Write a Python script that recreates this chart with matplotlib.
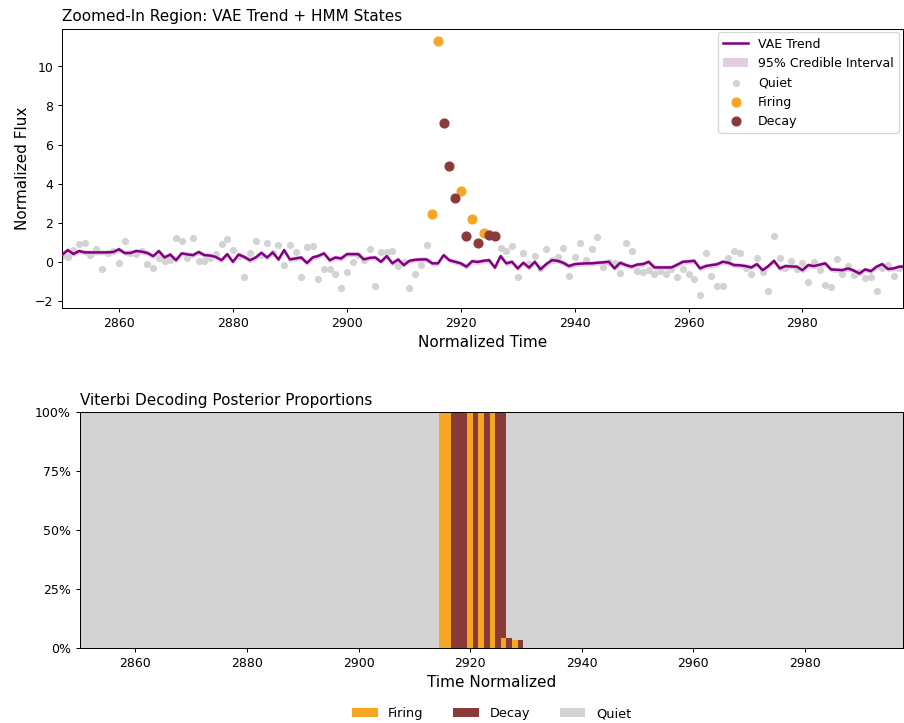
import numpy as np
import matplotlib
matplotlib.use("Agg")
import matplotlib.pyplot as plt
from matplotlib.ticker import PercentFormatter

# time axis of the zoomed window
t = np.arange(2850, 2999)

# VAE trend (posterior mean)
trend = [0.35, 0.60, 0.40, 0.55, 0.48, 0.48, 0.48, 0.48, 0.48, 0.50,
         0.64, 0.45, 0.45, 0.55, 0.52, 0.45, 0.29, 0.55, 0.22, 0.37,
         0.08, 0.43, 0.38, 0.34, 0.50, 0.34, 0.32, 0.25, 0.08, 0.39,
         0.00, 0.37, 0.25, 0.08, 0.22, 0.46, 0.22, 0.48, 0.12, 0.60,
         0.12, 0.17, 0.22, -0.06, 0.22, 0.30, 0.43, 0.08, 0.22, 0.17,
         0.39, 0.39, 0.39, 0.12, 0.20, 0.22, 0.00, 0.29, -0.08, 0.12,
         -0.17, 0.05, 0.10, 0.12, 0.12, -0.08, -0.08, 0.34, 0.08, 0.00,
         -0.08, -0.25, 0.03, -0.01, 0.05, 0.08, -0.30, 0.29, -0.08, 0.00,
         -0.34, -0.05, -0.30, 0.00, -0.39, -0.12, 0.08, 0.05, -0.05, -0.22,
         -0.12, -0.10, -0.08, -0.08, -0.05, -0.03, 0.00, -0.34, -0.05, -0.17,
         -0.25, -0.14, -0.12, 0.00, -0.29, -0.29, -0.29, -0.29, -0.15, 0.00,
         0.02, 0.05, -0.34, -0.22, -0.17, -0.13, 0.00, -0.05, -0.17, -0.18,
         -0.22, -0.29, -0.12, -0.43, -0.22, 0.05, -0.34, -0.22, -0.24, -0.25,
         -0.43, -0.17, -0.22, -0.15, -0.08, -0.39, -0.41, -0.43, -0.34, -0.45,
         -0.60, -0.39, -0.48, -0.25, -0.12, -0.37, -0.34, -0.25, -0.25]
ci_half = 0.13

# observed flux, quiet state (None where the HMM state is not quiet)
quiet = [0.30, 0.22, 0.60, 0.89, 0.97, 0.37, 0.64, -0.37, 0.45, 0.55,
         -0.05, 1.06, 0.43, 0.39, 0.55, -0.10, -0.34, 0.17, 0.03, 0.08,
         1.23, 1.08, 0.20, 1.20, 0.03, 0.03, 0.17, 0.40, 0.89, 1.15,
         0.60, 0.30, -0.77, 0.43, 1.08, 0.34, 0.97, 0.43, 0.85, -0.14,
         0.85, 0.50, -0.77, 0.77, 0.82, -0.89, -0.37, -0.37, -0.60, -1.33,
         -0.50, -0.03, 0.34, 0.10, 0.64, -1.23, 0.50, 0.50, 0.55, -0.22,
         0.00, -1.33, -0.60, -0.17, 0.85, None, None, None, None, None,
         None, None, None, None, None, None, None, 0.70, 0.56, 0.82,
         -0.77, 0.46, -0.10, 0.29, -0.30, 0.65, 0.10, 0.22, 0.73, -0.73,
         0.22, 0.94, 0.08, 0.65, 1.28, -0.25, 0.00, -0.05, -0.56, 0.97,
         0.56, -0.48, -0.51, -0.43, -0.60, -0.45, -0.60, -0.35, -0.77, -0.39,
         -0.60, -0.89, -1.71, 0.43, -0.73, -1.25, -1.25, 0.20, 0.56, 0.43,
         -0.30, -0.63, 0.20, -0.50, -1.50, 1.33, 0.20, -0.30, 0.03, -0.35,
         -0.08, -1.03, -0.03, -0.40, -1.20, -1.30, 0.12, -0.63, -0.20, -0.68,
         -0.50, -0.85, -0.80, -1.50, -0.30, -0.17, -0.73, -0.30, -0.30]

firing_t = [2915, 2916, 2920, 2922, 2924]
firing_v = [2.45, 11.28, 3.63, 2.19, 1.47]
decay_t = [2917, 2918, 2919, 2921, 2923, 2925, 2926]
decay_v = [7.11, 4.91, 3.27, 1.32, 0.96, 1.37, 1.32]

# Viterbi posterior proportions (only non-quiet times listed)
prop_t = [2915, 2916, 2917, 2918, 2919, 2920, 2921, 2922, 2923, 2924,
          2925, 2926, 2927, 2928, 2929]
prop_firing = [1.0, 1.0, 0.0, 0.0, 0.0, 1.0, 0.0, 1.0, 0.0, 1.0,
               0.0, 0.042, 0.0, 0.034, 0.0]
prop_decay = [0.0, 0.0, 1.0, 1.0, 1.0, 0.0, 1.0, 0.0, 1.0, 0.0,
              1.0, 0.958, 0.042, 0.0, 0.034]

c_trend = "#800080"
c_quiet = "#d3d3d3"
c_firing = "#f5a623"
c_decay = "#8b3a3a"

trend = np.array(trend)
q = np.array([np.nan if v is None else v for v in quiet])

fig = plt.figure(figsize=(10, 8), dpi=90.4)
ax1 = fig.add_axes([0.0686, 0.574, 0.930, 0.386])
ax2 = fig.add_axes([0.088, 0.1037, 0.911, 0.3263])

# top: trend + states
ax1.plot(t, trend, color=c_trend, lw=2, label="VAE Trend", zorder=3)
ax1.fill_between(t, trend - ci_half, trend + ci_half, color=c_trend,
                 alpha=0.2, lw=0, label="95% Credible Interval")
ax1.scatter(t, q, s=22, color=c_quiet, label="Quiet", zorder=2)
ax1.scatter(firing_t, firing_v, s=50, color=c_firing, label="Firing", zorder=4)
ax1.scatter(decay_t, decay_v, s=50, color=c_decay, label="Decay", zorder=4)
ax1.set_xlim(2850, 2997.6)
ax1.set_title("Zoomed-In Region: VAE Trend + HMM States", loc="left",
              fontsize=12.2)
ax1.set_xlabel("Normalized Time", fontsize=12.2)
ax1.set_ylabel("Normalized Flux", fontsize=12.2)
ax1.tick_params(labelsize=10)
ax1.legend(loc="upper right", fontsize=10, borderaxespad=0.3)

# bottom: stacked proportions
fir = np.zeros(len(t))
dec = np.zeros(len(t))
for tt, f, d in zip(prop_t, prop_firing, prop_decay):
    fir[tt - t[0]] = f
    dec[tt - t[0]] = d
qui = 1.0 - fir - dec

ax2.bar(t, fir, width=1.0, color=c_firing, lw=0, label="Firing")
ax2.bar(t, dec, width=1.0, bottom=fir, color=c_decay, lw=0, label="Decay")
ax2.bar(t, qui, width=1.0, bottom=fir + dec, color=c_quiet, lw=0,
        label="Quiet")
ax2.set_xlim(2850, 2997.6)
ax2.set_ylim(0, 1)
ax2.set_yticks([0, 0.25, 0.5, 0.75, 1.0])
ax2.yaxis.set_major_formatter(PercentFormatter(1.0, decimals=0))
ax2.set_title("Viterbi Decoding Posterior Proportions", loc="left",
              fontsize=12.2)
ax2.set_xlabel("Time Normalized", fontsize=12.2)
ax2.tick_params(labelsize=10)
ax2.legend(loc="upper center", bbox_to_anchor=(0.5, -0.2), ncol=3,
           frameon=False, fontsize=10.3, columnspacing=2.3)

fig.savefig("out.png", dpi=90.4)
